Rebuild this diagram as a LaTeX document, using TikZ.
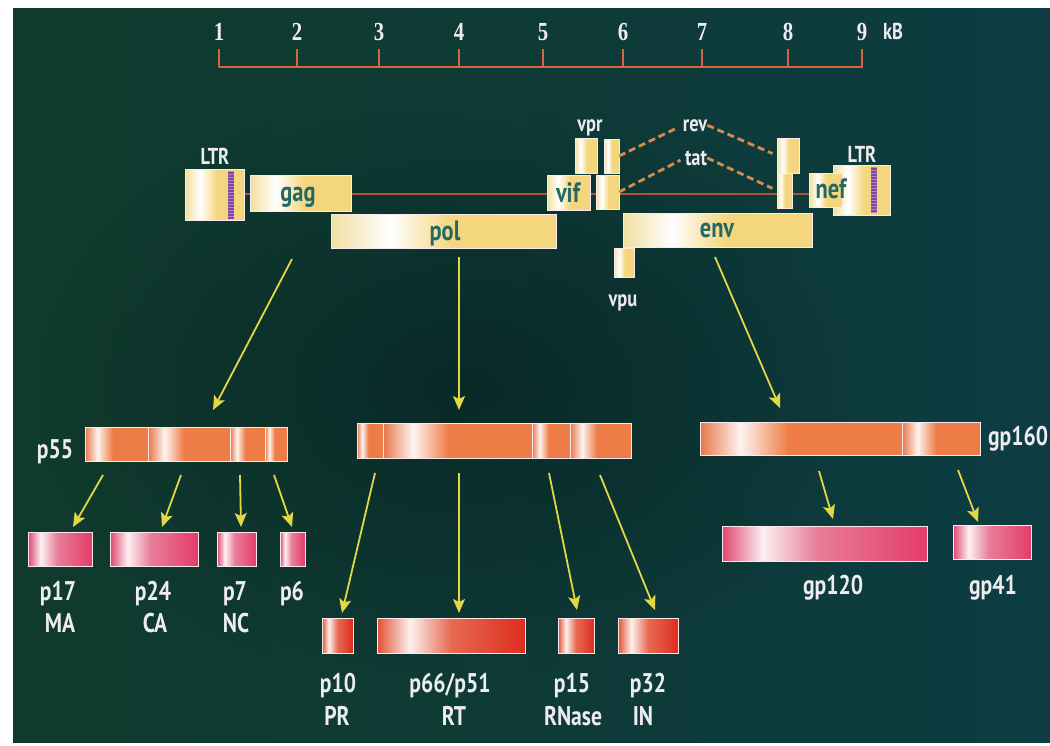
\documentclass[tikz,border=0pt]{standalone}
\usepackage{fontspec}
\setmainfont{PT Sans}
\newfontfamily\lblfont[FakeStretch=0.8]{PT Sans}
\newfontfamily\numfont[FakeStretch=0.8]{Liberation Serif}
\usetikzlibrary{arrows.meta,fadings}

\definecolor{bgA}{RGB}{16,58,44}
\definecolor{bgB}{RGB}{13,60,66}
\definecolor{bgDark}{RGB}{4,28,28}
\definecolor{rulerC}{RGB}{214,100,60}
\definecolor{lineC}{RGB}{176,84,52}
\definecolor{dashC}{RGB}{214,140,80}
\definecolor{arrC}{RGB}{226,216,70}
\definecolor{geneText}{RGB}{34,104,100}
\definecolor{lblC}{RGB}{238,236,240}
\definecolor{yelA}{RGB}{240,224,160}
\definecolor{yelB}{RGB}{244,214,126}
\definecolor{orgA}{RGB}{232,118,72}
\definecolor{orgB}{RGB}{238,124,70}
\definecolor{pinkA}{RGB}{222,70,110}
\definecolor{pinkB}{RGB}{228,60,105}
\definecolor{redA}{RGB}{226,80,50}
\definecolor{redB}{RGB}{222,44,30}
\definecolor{purp}{RGB}{128,70,160}
\definecolor{purpL}{RGB}{176,130,200}
\definecolor{edgeC}{RGB}{250,232,236}

\tikzfading[name=cfade, inner color=transparent!0, outer color=transparent!100]

\pgfdeclarehorizontalshading{yelsh}{100bp}{color(0bp)=(yelA); color(25bp)=(yelA); color(38bp)=(white); color(52bp)=(yelB); color(75bp)=(yelB); color(100bp)=(yelB)}
\pgfdeclarehorizontalshading{orgsh}{100bp}{color(0bp)=(orgA); color(25bp)=(orgA); color(35bp)=(white!92!orgA); color(47bp)=(orgB); color(75bp)=(orgB); color(100bp)=(orgB)}
\pgfdeclarehorizontalshading{pinksh}{100bp}{color(0bp)=(pinkA); color(25bp)=(pinkA); color(35bp)=(white!92!pinkA); color(48bp)=(pinkA!70!white); color(75bp)=(pinkB); color(100bp)=(pinkB)}
\pgfdeclarehorizontalshading{redsh}{100bp}{color(0bp)=(redA); color(25bp)=(redA); color(36bp)=(white!92!redA); color(50bp)=(redA!85!white); color(75bp)=(redB); color(100bp)=(redB)}

\tikzset{
  bx/.style={draw=edgeC, line width=0.8pt, inner sep=0pt, outer sep=0pt, anchor=north west, shade},
  gene/.style={bx, shading=yelsh},
  poly/.style={bx, shading=orgsh},
  pinkp/.style={bx, shading=pinksh},
  redp/.style={bx, shading=redsh},
  lbl/.style={text=lblC, font=\lblfont\bfseries\fontsize{27}{30}\selectfont, inner sep=0pt, anchor=base},
  slbl/.style={text=lblC, font=\lblfont\bfseries\fontsize{23}{26}\selectfont, inner sep=0pt, anchor=base},
  gtxt/.style={text=geneText, font=\lblfont\bfseries\fontsize{28}{30}\selectfont, inner sep=0pt, anchor=base},
  num/.style={text=lblC, font=\numfont\bfseries\fontsize{26}{28}\selectfont, inner sep=0pt, anchor=base},
  arr/.style={draw=arrC, line width=1.8pt, -{Stealth[length=14pt,width=12pt,inset=3pt]}},
  ruler/.style={draw=rulerC, line width=2pt},
  gline/.style={draw=lineC, line width=2.5pt},
  dline/.style={draw=dashC, line width=2.8pt, dash pattern=on 7pt off 4pt, shorten >=5pt},
}

\newcommand\mkbox[6]{\node[#1, minimum width={(#4-#2)*1pt}, minimum height={(#5-#3)*1pt}] (#6) at (#2,#3) {};}

\begin{document}
\begin{tikzpicture}[x=1pt,y=-1pt]
\useasboundingbox (0,0) rectangle (1050,745);
% background
\fill[white] (0,0) rectangle (1050,745);
\shade[left color=bgA, right color=bgB] (13,8) rectangle (1050,742);
\fill[bgDark, path fading=cfade, opacity=0.55] (470,390) ellipse (430 and 300);

% ruler
\foreach \x [count=\i] in {219,297,379,459,543,623,702,788,862} {
  \coordinate (r\i) at (\x,67);
  \node[num] (n\i) at (\x,40) {\i};
  \draw[ruler] (r\i) -- ++(0,-18);
}
\draw[ruler, line cap=round] (r1) -- (r9);
\node[slbl] (kB) at (893,39) {kB};

% genome backbone
\coordinate (g0) at (244,194);
\coordinate (g1) at (809,194);
\draw[gline] (g0) -- (g1);

% genome boxes
\mkbox{gene}{185}{169}{244}{220}{LTRL}
\fill[purp] (228,171) rectangle (234,219);
\draw[purpL, line width=6pt, dash pattern=on 1.2pt off 1.8pt] (231,171) -- (231,219);
\mkbox{gene}{250}{175}{351}{211}{gag}
\mkbox{gene}{331}{214}{556}{248}{pol}
\mkbox{gene}{547}{175}{590}{210}{vif}
\mkbox{gene}{575}{138}{597}{173}{vpr}
\mkbox{gene}{604}{139}{619}{173}{rev1}
\mkbox{gene}{596}{175}{619}{209}{tat1}
\mkbox{gene}{614}{248}{634}{277}{vpu}
\mkbox{gene}{623}{213}{812}{247}{env}
\mkbox{gene}{777}{138}{799}{173}{rev2}
\mkbox{gene}{777}{173}{792}{208}{tat2}
\mkbox{gene}{833}{165}{890}{215}{LTRR}
\fill[purp] (871,167) rectangle (877,213);
\draw[purpL, line width=6pt, dash pattern=on 1.2pt off 1.8pt] (874,167) -- (874,213);
\mkbox{gene}{809}{173}{842}{207}{nef}

% genome texts
\node[gtxt] (gagT) at (298,201) {gag};
\node[gtxt] (polT) at (445,240) {pol};
\node[gtxt] (vifT) at (568,202) {vif};
\node[gtxt] (envT) at (717,237) {env};
\node[gtxt] (nefT) at (831,198) {nef};
\node[slbl] (ltrLT) at (215,164) {LTR};
\node[slbl] (ltrRT) at (862,162) {LTR};
\node[slbl] (vprT) at (590,131) {vpr};
\node[slbl] (revT) at (695,131) {rev};
\node[slbl] (tatT) at (696,165) {tat};
\node[slbl] (vpuT) at (623,306) {vpu};

% splicing dashes
\draw[dline] (rev1.east) -- (revT.west);
\draw[dline] (revT.east) -- (rev2.west);
\draw[dline] (tat1.east) -- (tatT.west);
\draw[dline] (tatT.east) -- (tat2.west);

% polyproteins
\mkbox{poly}{85}{427}{148}{461}{p55a}
\mkbox{poly}{148}{427}{230}{461}{p55b}
\mkbox{poly}{230}{427}{265}{461}{p55c}
\mkbox{poly}{265}{427}{287}{461}{p55d}
\node[lbl] (p55T) at (55,458) {p55};

\mkbox{poly}{357}{423}{383}{458}{ppa}
\mkbox{poly}{383}{423}{532}{458}{ppb}
\mkbox{poly}{532}{423}{570}{458}{ppc}
\mkbox{poly}{570}{423}{631}{458}{ppd}

\mkbox{poly}{700}{422}{902}{455}{gpa}
\mkbox{poly}{902}{422}{980}{455}{gpb}
\node[lbl] (gp160T) at (1018,445) {gp160};

% products
\mkbox{pinkp}{28}{532}{92}{566}{p17}
\mkbox{pinkp}{110}{532}{198}{566}{p24}
\mkbox{pinkp}{217}{532}{256}{566}{p7}
\mkbox{pinkp}{280}{532}{305}{566}{p6}
\node[lbl] (p17T) at (58,600) {p17};
\node[lbl] (maT) at (60,632) {MA};
\node[lbl] (p24T) at (153,600) {p24};
\node[lbl] (caT) at (155,632) {CA};
\node[lbl] (p7T) at (235,600) {p7};
\node[lbl] (ncT) at (236,632) {NC};
\node[lbl] (p6T) at (292,600) {p6};

\mkbox{redp}{322}{618}{353}{653}{p10}
\mkbox{redp}{377}{618}{525}{653}{p66}
\mkbox{redp}{558}{618}{594}{653}{p15}
\mkbox{redp}{618}{618}{678}{653}{p32}
\node[lbl] (p10T) at (338,692) {p10};
\node[lbl] (prT) at (337,725) {PR};
\node[lbl] (p66T) at (450,692) {p66/p51};
\node[lbl] (rtT) at (454,725) {RT};
\node[lbl] (p15T) at (572,692) {p15};
\node[lbl] (rnT) at (573,725) {RNase};
\node[lbl] (p32T) at (648,692) {p32};
\node[lbl] (inT) at (643,725) {IN};

\mkbox{pinkp}{722}{526}{927}{561}{gp120}
\mkbox{pinkp}{953}{525}{1031}{559}{gp41}
\node[lbl] (gp120T) at (833,594) {gp120};
\node[lbl] (gp41T) at (993,594) {gp41};

% arrows
\coordinate (a1s) at (292,259); \coordinate (a1e) at (213,410);
\coordinate (a2s) at (459,257); \coordinate (a2e) at (459,410);
\coordinate (a3s) at (715,257); \coordinate (a3e) at (780,408);
\draw[arr] (a1s) -- (a1e);
\draw[arr] (a2s) -- (a2e);
\draw[arr] (a3s) -- (a3e);

\coordinate (b1s) at (103,475); \coordinate (b1e) at (73,527);
\coordinate (b2s) at (181,475); \coordinate (b2e) at (162,527);
\coordinate (b3s) at (240,475); \coordinate (b3e) at (241,527);
\coordinate (b4s) at (274,475); \coordinate (b4e) at (292,527);
\foreach \k in {1,2,3,4} {\draw[arr] (b\k s) -- (b\k e);}

\coordinate (c1s) at (375,473); \coordinate (c1e) at (342,613);
\coordinate (c2s) at (459,473); \coordinate (c2e) at (459,613);
\coordinate (c3s) at (549,473); \coordinate (c3e) at (577,610);
\coordinate (c4s) at (600,475); \coordinate (c4e) at (655,610);
\foreach \k in {1,2,3,4} {\draw[arr] (c\k s) -- (c\k e);}

\coordinate (d1s) at (819,471); \coordinate (d1e) at (833,519);
\coordinate (d2s) at (958,470); \coordinate (d2e) at (978,522);
\draw[arr] (d1s) -- (d1e);
\draw[arr] (d2s) -- (d2e);
\end{tikzpicture}
\end{document}
